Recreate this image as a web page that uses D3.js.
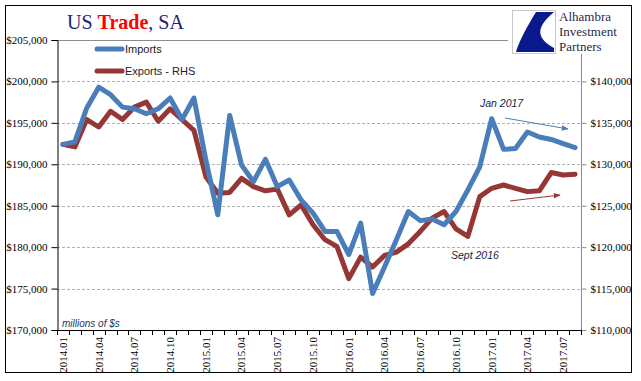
<!DOCTYPE html>
<html><head><meta charset="utf-8">
<script src="https://cdn.jsdelivr.net/npm/d3@7"></script>
<style>body{margin:0;background:#fff}svg{display:block}</style>
</head><body>
<svg id="c" width="641" height="381"></svg>
<script>
const months = [];
for (let y = 2014; y <= 2017; y++) for (let m = 1; m <= 12; m++) { if (y === 2017 && m > 8) break; months.push(y + "." + String(m).padStart(2, "0")); }
const imports = [192400,192700,196800,199300,198400,196900,196700,196100,196700,198000,195400,198000,
  190500,183900,195900,189900,187900,190600,187300,188100,185700,184100,181900,181900,
  179100,182900,174400,177600,180900,184300,183200,183400,182700,184300,186900,189700,
  195500,191800,191900,193900,193300,193000,192500,192000];
const exportsRHS = [132400,132100,135400,134500,136400,135400,136900,137500,135200,136700,135400,134100,
  128500,126500,126600,128300,127300,126800,127000,123900,125100,122700,120900,120100,
  116200,118800,117600,119000,119400,120400,121900,123500,124300,122200,121300,126100,
  127100,127500,127100,126700,126800,129000,128700,128800];
const leftTicks = [170000,175000,180000,185000,190000,195000,200000,205000];
const rightTicks = [110000,115000,120000,125000,130000,135000,140000];
const xLabels = ["2014.01","2014.04","2014.07","2014.10","2015.01","2015.04","2015.07","2015.10",
  "2016.01","2016.04","2016.07","2016.10","2017.01","2017.04","2017.07"];

const svg = d3.select("#c");
const L = 57, R = 581, T = 40, B = 330;
const x = d3.scaleBand().domain(months).range([L, R]);
const cx = d => x(d) + x.bandwidth() / 2;
const yL = d3.scaleLinear().domain([170000, 205000]).range([B, T]);
const yR = d3.scaleLinear().domain([110000, 145000]).range([B, T]);
const fmt = d => "$" + d3.format(",")(d);
const serif = "'Liberation Serif','Times New Roman',serif";
const sans = "'Liberation Sans',Arial,sans-serif";

// border
svg.append("rect").attr("x", 5.5).attr("y", 5.5).attr("width", 626).attr("height", 367)
  .attr("fill", "#fff").attr("stroke", "#000").attr("stroke-width", 1);

// gridlines
svg.append("g").selectAll("line").data(leftTicks.filter(d => d > 170000 && d < 205000)).join("line")
  .attr("x1", L).attr("x2", R).attr("y1", d => Math.round(yL(d)) + 0.5).attr("y2", d => Math.round(yL(d)) + 0.5)
  .attr("stroke", "#b0b0b0").attr("stroke-dasharray", "3,2");
svg.append("line").attr("x1", L).attr("x2", 508).attr("y1", yL(205000) + 0.5).attr("y2", yL(205000) + 0.5)
  .attr("stroke", "#8c8c8c");

// left axis
const gl = svg.append("g").attr("transform", `translate(${L + 0.5},0)`)
  .call(d3.axisLeft(yL).tickValues(leftTicks).tickFormat(fmt).tickSize(6).tickPadding(4));
gl.select(".domain").attr("stroke", "#000");
gl.selectAll("text").attr("font-family", serif).attr("font-size", 11).attr("fill", "#000");

// right axis
const gr = svg.append("g").attr("transform", `translate(${R + 0.5},0)`)
  .call(d3.axisRight(yR).tickValues(rightTicks).tickFormat(fmt).tickSize(5).tickPadding(4));
gr.select(".domain").remove();
gr.selectAll("line").attr("stroke", "#8c8c8c");
gr.selectAll("text").attr("font-family", serif).attr("font-size", 11).attr("fill", "#000");
svg.append("line").attr("x1", R + 0.5).attr("x2", R + 0.5).attr("y1", 54).attr("y2", B).attr("stroke", "#8c8c8c");

// bottom axis
const gb = svg.append("g");
gb.append("line").attr("x1", L).attr("x2", R).attr("y1", B + 0.5).attr("y2", B + 0.5).attr("stroke", "#000");
gb.selectAll("line.tk").data(months.concat(["end"])).join("line").attr("class", "tk")
  .attr("x1", d => Math.round(d === "end" ? R : x(d)) + 0.5).attr("x2", d => Math.round(d === "end" ? R : x(d)) + 0.5)
  .attr("y1", B).attr("y2", B + 5).attr("stroke", "#000");
gb.selectAll("text").data(xLabels).join("text")
  .attr("transform", d => `translate(${cx(d)},337) rotate(-90)`)
  .attr("text-anchor", "end").attr("dy", "0.35em")
  .attr("font-family", serif).attr("font-size", 11).attr("fill", "#000").text(d => d);

// lines
const lineL = d3.line().x((d, i) => cx(months[i])).y(d => yL(d));
const lineR = d3.line().x((d, i) => cx(months[i])).y(d => yR(d));
svg.append("path").datum(exportsRHS).attr("d", lineR).attr("fill", "none")
  .attr("stroke", "#953735").attr("stroke-width", 5).attr("stroke-linejoin", "round").attr("stroke-linecap", "round");
svg.append("path").datum(imports).attr("d", lineL).attr("fill", "none")
  .attr("stroke", "#4a7ebb").attr("stroke-width", 5).attr("stroke-linejoin", "round").attr("stroke-linecap", "round");

// legend
const leg = [["Imports", "#4a7ebb", 49], ["Exports - RHS", "#953735", 71]];
leg.forEach(([t, c, y]) => {
  svg.append("line").attr("x1", 97).attr("x2", 122).attr("y1", y).attr("y2", y)
    .attr("stroke", c).attr("stroke-width", 5).attr("stroke-linecap", "round");
  svg.append("text").attr("x", 125).attr("y", y + 4).attr("font-family", sans).attr("font-size", 11)
    .attr("fill", "#222").text(t);
});

// title
const title = svg.append("text").attr("x", 67).attr("y", 29).attr("font-family", serif).attr("font-size", 20);
title.append("tspan").attr("fill", "#1a237e").text("US ");
title.append("tspan").attr("fill", "#ff0000").attr("font-weight", "bold").text("Trade");
title.append("tspan").attr("fill", "#1a237e").text(", SA");

// logo
svg.append("rect").attr("x", 512.5).attr("y", 10.5).attr("width", 43).attr("height", 43)
  .attr("fill", "#fff").attr("stroke", "#c8c8c8");
svg.append("path").attr("d", "M536,12 L554,12 C540,24 532,36 554,48 L554,52 L516,52 C518,44 526,28 536,12 Z")
  .attr("fill", "#0a1a8c");
["Alhambra", "Investment", "Partners"].forEach((t, i) => {
  svg.append("text").attr("x", 559).attr("y", 21 + i * 15).attr("font-family", serif).attr("font-size", 13)
    .attr("fill", "#2a2a4a").text(t);
});

// annotations
svg.append("text").attr("x", 62).attr("y", 327).attr("font-family", sans).attr("font-style", "italic")
  .attr("font-size", 10).attr("fill", "#203864").text("millions of $s");
svg.append("text").attr("x", 480).attr("y", 107).attr("font-family", sans).attr("font-style", "italic")
  .attr("font-size", 10.5).attr("fill", "#1a1a40").text("Jan 2017");
svg.append("text").attr("x", 451).attr("y", 259).attr("font-family", sans).attr("font-style", "italic")
  .attr("font-size", 10.5).attr("fill", "#1a1a40").text("Sept 2016");

const defs = svg.append("defs");
[["ab", "#4a7ebb"], ["ar", "#953735"]].forEach(([id, c]) => {
  defs.append("marker").attr("id", id).attr("viewBox", "0 0 10 10").attr("refX", 9).attr("refY", 5)
    .attr("markerWidth", 7).attr("markerHeight", 7).attr("orient", "auto")
    .append("path").attr("d", "M0,1 L10,5 L0,9 Z").attr("fill", c);
});
svg.append("line").attr("x1", 505).attr("y1", 118).attr("x2", 568).attr("y2", 129)
  .attr("stroke", "#4a7ebb").attr("stroke-width", 1).attr("marker-end", "url(#ab)");
svg.append("line").attr("x1", 510).attr("y1", 201).attr("x2", 560).attr("y2", 195)
  .attr("stroke", "#953735").attr("stroke-width", 1).attr("marker-end", "url(#ar)");
</script>
</body></html>
